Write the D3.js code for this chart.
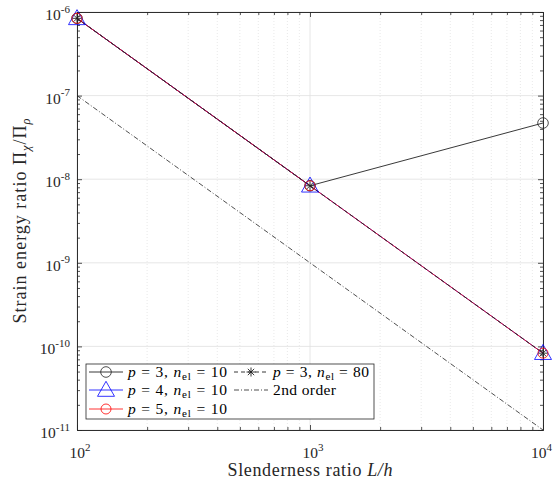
<!DOCTYPE html>
<html><head><meta charset="utf-8">
<script src="https://d3js.org/d3.v7.min.js"></script>
<style>body{margin:0;background:#fff}svg{display:block}text{font-family:"Liberation Serif","DejaVu Serif",serif;}</style>
</head><body><svg id="c" width="554" height="486"></svg>
<script>
const slenderness = [100, 1000, 10000];
const p3n10 = [8.4e-7, 8.35e-9, 4.7e-8];
const p4n10 = [8.4e-7, 8.35e-9, 8.3e-11];
const p5n10 = [8.4e-7, 8.35e-9, 8.3e-11];
const p3n80 = [8.4e-7, 8.35e-9, 8.3e-11];
const secondOrder = [1e-7, 1e-9, 1e-11];
const xTicks = [1e2, 1e3, 1e4];
const xTickExp = ["2", "3", "4"];
const yTicks = [1e-11, 1e-10, 1e-9, 1e-8, 1e-7, 1e-6];
const yTickExp = ["-11", "-10", "-9", "-8", "-7", "-6"];

const svg = d3.select("#c");
const L = 77, R = 543, T = 12, B = 430;
const x = d3.scaleLog().domain([1e2, 1e4]).range([L, R]);
const y = d3.scaleLog().domain([1e-11, 1e-6]).range([B, T]);

const xMinor = [], yMinor = [];
for (let e = 2; e < 4; e++) for (let k = 2; k <= 9; k++) xMinor.push(k * Math.pow(10, e));
for (let e = -11; e < -6; e++) for (let k = 2; k <= 9; k++) yMinor.push(k * Math.pow(10, e));

const g = svg.append("g");
g.selectAll(".xmg").data(xMinor).enter().append("line")
  .attr("x1", d => x(d)).attr("x2", d => x(d)).attr("y1", T).attr("y2", B)
  .attr("stroke", "#e3e3e3").attr("stroke-width", 0.8).attr("stroke-dasharray", "1,2");
g.selectAll(".xg").data(xTicks).enter().append("line")
  .attr("x1", d => x(d)).attr("x2", d => x(d)).attr("y1", T).attr("y2", B)
  .attr("stroke", "#e0e0e0").attr("stroke-width", 0.8);
g.selectAll(".yg").data(yTicks).enter().append("line")
  .attr("y1", d => y(d)).attr("y2", d => y(d)).attr("x1", L).attr("x2", R)
  .attr("stroke", "#e0e0e0").attr("stroke-width", 0.8);

function axisGroup(axis, tx, ty) {
  const a = svg.append("g").attr("transform", `translate(${tx},${ty})`).call(axis);
  a.selectAll("text").remove();
  a.select(".domain").attr("stroke", "#262626").attr("stroke-width", 0.8);
  a.selectAll("line").attr("stroke", "#262626").attr("stroke-width", 0.8);
  return a;
}
axisGroup(d3.axisBottom(x).tickValues(xTicks).tickSize(-5).tickSizeOuter(0), 0, B);
axisGroup(d3.axisBottom(x).tickValues(xMinor).tickSize(-3).tickSizeOuter(0), 0, B);
axisGroup(d3.axisTop(x).tickValues(xTicks).tickSize(-5).tickSizeOuter(0), 0, T);
axisGroup(d3.axisTop(x).tickValues(xMinor).tickSize(-3).tickSizeOuter(0), 0, T);
axisGroup(d3.axisLeft(y).tickValues(yTicks).tickSize(-5).tickSizeOuter(0), L, 0);
axisGroup(d3.axisLeft(y).tickValues(yMinor).tickSize(-3).tickSizeOuter(0), L, 0);
axisGroup(d3.axisRight(y).tickValues(yTicks).tickSize(-5).tickSizeOuter(0), R, 0);
axisGroup(d3.axisRight(y).tickValues(yMinor).tickSize(-3).tickSizeOuter(0), R, 0);

xTicks.forEach((v, i) => {
  const last = i === xTicks.length - 1;
  const t = svg.append("text").attr("x", last ? 552 : x(v) + 3).attr("y", B + 28)
    .attr("text-anchor", last ? "end" : "middle")
    .attr("font-size", 15.5).attr("fill", "#262626");
  t.append("tspan").text("10");
  t.append("tspan").attr("dy", -7).attr("font-size", 11).text(xTickExp[i]);
});
yTicks.forEach((v, i) => {
  const t = svg.append("text").attr("x", L - 7).attr("y", y(v) + 8).attr("text-anchor", "end")
    .attr("font-size", 15.5).attr("fill", "#262626");
  t.append("tspan").text("10");
  t.append("tspan").attr("dy", -7.5).attr("font-size", 11).text(yTickExp[i]);
});

const xt = svg.append("text").attr("x", (L + R) / 2).attr("y", 476).attr("text-anchor", "middle")
  .attr("font-size", 18).attr("fill", "#262626").attr("textLength", 165).attr("lengthAdjust", "spacing");
xt.append("tspan").text("Slenderness ratio ");
xt.append("tspan").attr("font-style", "italic").text("L/h");

const yt = svg.append("text").attr("transform", `translate(26,${(T + B) / 2}) rotate(-90)`)
  .attr("text-anchor", "middle").attr("font-size", 18).attr("fill", "#262626")
  .attr("textLength", 205).attr("lengthAdjust", "spacing");
yt.append("tspan").text("Strain energy ratio Π");
yt.append("tspan").attr("font-style", "italic").attr("font-size", 12.5).attr("dy", 4).text("χ");
yt.append("tspan").attr("dy", -4).text("/Π");
yt.append("tspan").attr("font-style", "italic").attr("font-size", 12.5).attr("dy", 4).text("ρ");

const line = d3.line().x((d, i) => x(slenderness[i])).y(d => y(d));
const plot = svg.append("g");

function series(vals, color, dash, width) {
  plot.append("path").attr("d", line(vals)).attr("fill", "none").attr("stroke", color)
    .attr("stroke-width", width).attr("stroke-dasharray", dash || null);
}
function circleM(gr, cx, cy, color, r) {
  gr.append("circle").attr("cx", cx).attr("cy", cy).attr("r", r).attr("fill", "none")
    .attr("stroke", color).attr("stroke-width", 0.8);
}
function triM(gr, cx, cy, color) {
  gr.append("path").attr("d", `M${cx},${cy - 8.7}L${cx + 8.5},${cy + 6.3}L${cx - 8.5},${cy + 6.3}Z`)
    .attr("fill", "none").attr("stroke", color).attr("stroke-width", 0.8);
}
function starM(gr, cx, cy, color) {
  const s = 4.5;
  let d = "";
  for (let k = 0; k < 4; k++) {
    const a = k * Math.PI / 4;
    d += `M${cx - s * Math.cos(a)},${cy - s * Math.sin(a)}L${cx + s * Math.cos(a)},${cy + s * Math.sin(a)}`;
  }
  gr.append("path").attr("d", d).attr("stroke", color).attr("stroke-width", 0.9);
}

series(p3n10, "#222", null, 0.9);
series(p4n10, "#0000ff", null, 0.8);
series(p5n10, "#ff0000", null, 0.8);
series(p3n80, "#222", "4,3", 0.9);
series(secondOrder, "#222", "5,2,1,2", 0.8);

p3n10.forEach((v, i) => circleM(plot, x(slenderness[i]), y(v), "#222", 5.3));
p4n10.forEach((v, i) => triM(plot, x(slenderness[i]), y(v), "#0000ff"));
p5n10.forEach((v, i) => circleM(plot, x(slenderness[i]), y(v), "#ff0000", 5));
p3n80.forEach((v, i) => starM(plot, x(slenderness[i]), y(v), "#222"));

const lg = svg.append("g");
lg.append("rect").attr("x", 86).attr("y", 364).attr("width", 288).attr("height", 55)
  .attr("fill", "#fff").attr("stroke", "#262626").attr("stroke-width", 0.8);
function label(xp, yp, pv, nv, len) {
  const t = lg.append("text").attr("x", xp).attr("y", yp + 5).attr("font-size", 15.5).attr("fill", "#000")
    .attr("textLength", len).attr("lengthAdjust", "spacing");
  t.append("tspan").attr("font-style", "italic").text("p");
  t.append("tspan").text(" = " + pv + ", ");
  t.append("tspan").attr("font-style", "italic").text("n");
  t.append("tspan").attr("font-size", 11).attr("dy", 3).text("el");
  t.append("tspan").attr("dy", -3).text(" = " + nv);
}
const rows = [372, 390, 409];
lg.append("line").attr("x1", 89).attr("x2", 123).attr("y1", rows[0]).attr("y2", rows[0]).attr("stroke", "#222").attr("stroke-width", 0.9);
circleM(lg, 106, rows[0], "#222", 5.3);
label(128, rows[0], 3, 10, 99);
lg.append("line").attr("x1", 89).attr("x2", 123).attr("y1", rows[1]).attr("y2", rows[1]).attr("stroke", "#0000ff").attr("stroke-width", 0.8);
triM(lg, 106, rows[1], "#0000ff");
label(128, rows[1], 4, 10, 99);
lg.append("line").attr("x1", 89).attr("x2", 123).attr("y1", rows[2]).attr("y2", rows[2]).attr("stroke", "#ff0000").attr("stroke-width", 0.8);
circleM(lg, 106, rows[2], "#ff0000", 5);
label(128, rows[2], 5, 10, 99);
lg.append("line").attr("x1", 234).attr("x2", 268).attr("y1", rows[0]).attr("y2", rows[0]).attr("stroke", "#222").attr("stroke-width", 0.9).attr("stroke-dasharray", "4,3");
starM(lg, 251, rows[0], "#222");
label(273, rows[0], 3, 80, 96);
lg.append("line").attr("x1", 234).attr("x2", 268).attr("y1", rows[1]).attr("y2", rows[1]).attr("stroke", "#222").attr("stroke-width", 0.8).attr("stroke-dasharray", "5,2,1,2");
lg.append("text").attr("x", 273).attr("y", rows[1] + 5).attr("font-size", 15.5)
  .attr("textLength", 63).attr("lengthAdjust", "spacing").text("2nd order");
</script></body></html>
